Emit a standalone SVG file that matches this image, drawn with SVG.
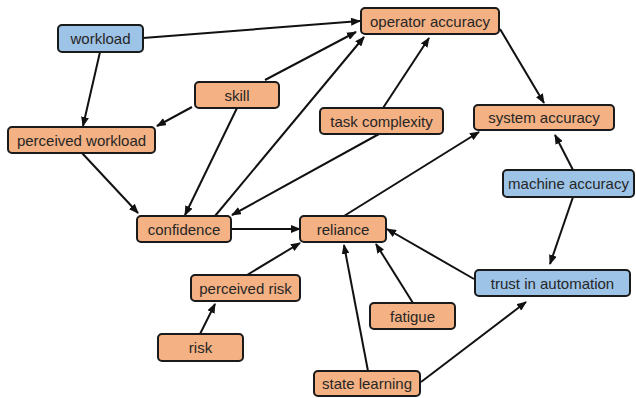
<svg xmlns="http://www.w3.org/2000/svg" width="636" height="398" viewBox="0 0 636 398">
  <style>
    .node rect { stroke: #1a1a1a; stroke-width: 2; }
    .orange rect { fill: #F4B183; }
    .blue rect { fill: #9DC3E6; }
    .node text { font-family: "Liberation Sans", Arial, sans-serif; font-size: 15px; fill: #262626; text-anchor: middle; dominant-baseline: central; }
    .edges line { stroke: #111; stroke-width: 2; marker-end: url(#arrow); }
  </style>
  <defs>
    <marker id="arrow" markerUnits="userSpaceOnUse" markerWidth="10" markerHeight="8" refX="9" refY="4" orient="auto">
      <path d="M0,0 L10,4 L0,8 z" fill="#111"/>
    </marker>
  </defs>
  <rect width="636" height="398" fill="#ffffff"/>

  <g class="edges">
    <line x1="143" y1="38" x2="360" y2="21"/>
    <line x1="100" y1="52" x2="83" y2="126"/>
    <line x1="192" y1="107" x2="157" y2="126"/>
    <line x1="265" y1="80" x2="356" y2="32"/>
    <line x1="237" y1="108" x2="185" y2="215"/>
    <line x1="215" y1="216" x2="364" y2="37"/>
    <line x1="379" y1="134" x2="232" y2="215"/>
    <line x1="383" y1="108" x2="429" y2="38"/>
    <line x1="500" y1="29" x2="544" y2="103"/>
    <line x1="573" y1="170" x2="555" y2="135"/>
    <line x1="573" y1="197" x2="550" y2="264"/>
    <line x1="474" y1="279" x2="387" y2="229"/>
    <line x1="231" y1="229" x2="300" y2="229"/>
    <line x1="344" y1="216" x2="479" y2="132"/>
    <line x1="247" y1="275" x2="300" y2="243"/>
    <line x1="200" y1="334" x2="215" y2="304"/>
    <line x1="413" y1="303" x2="376" y2="244"/>
    <line x1="368" y1="371" x2="344" y2="245"/>
    <line x1="421" y1="382" x2="526" y2="302"/>
    <line x1="82" y1="153" x2="138" y2="213"/>
  </g>

  <g id="workload" class="node blue">
    <rect x="58" y="25" width="85" height="27" rx="4"/>
    <text x="100.5" y="38.5">workload</text>
  </g>
  <g id="perceived-workload" class="node orange">
    <rect x="8" y="127" width="147" height="26" rx="4"/>
    <text x="81.5" y="140">perceived workload</text>
  </g>
  <g id="skill" class="node orange">
    <rect x="195" y="82" width="84" height="26" rx="4"/>
    <text x="237" y="95">skill</text>
  </g>
  <g id="operator-accuracy" class="node orange">
    <rect x="361" y="8" width="138" height="26" rx="4"/>
    <text x="430" y="21">operator accuracy</text>
  </g>
  <g id="task-complexity" class="node orange">
    <rect x="320" y="108" width="123" height="26" rx="4"/>
    <text x="381.5" y="121">task complexity</text>
  </g>
  <g id="system-accuracy" class="node orange">
    <rect x="474" y="105" width="140" height="25" rx="4"/>
    <text x="544" y="117.5">system accuracy</text>
  </g>
  <g id="machine-accuracy" class="node blue">
    <rect x="503" y="170" width="131" height="27" rx="4"/>
    <text x="568.5" y="183.5">machine accuracy</text>
  </g>
  <g id="confidence" class="node orange">
    <rect x="137" y="216" width="94" height="26" rx="4"/>
    <text x="184" y="229">confidence</text>
  </g>
  <g id="reliance" class="node orange">
    <rect x="300" y="216" width="86" height="26" rx="4"/>
    <text x="343" y="229">reliance</text>
  </g>
  <g id="perceived-risk" class="node orange">
    <rect x="191" y="275" width="109" height="26" rx="4"/>
    <text x="245.5" y="288">perceived risk</text>
  </g>
  <g id="risk" class="node orange">
    <rect x="158" y="334" width="85" height="27" rx="4"/>
    <text x="200.5" y="347.5">risk</text>
  </g>
  <g id="trust-in-automation" class="node blue">
    <rect x="475" y="270" width="155" height="26" rx="4"/>
    <text x="552.5" y="283">trust in automation</text>
  </g>
  <g id="fatigue" class="node orange">
    <rect x="370" y="303" width="85" height="26" rx="4"/>
    <text x="412.5" y="316">fatigue</text>
  </g>
  <g id="state-learning" class="node orange">
    <rect x="314" y="371" width="106" height="25" rx="4"/>
    <text x="367" y="383.5">state learning</text>
  </g>
</svg>
